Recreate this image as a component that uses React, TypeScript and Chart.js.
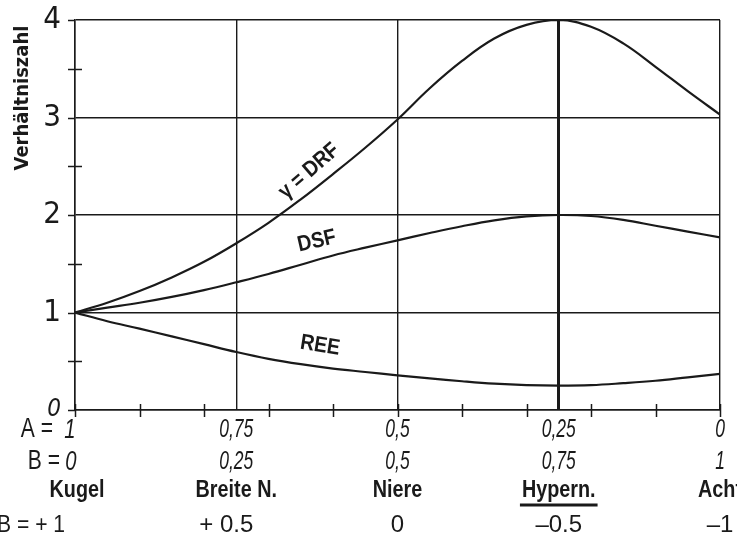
import React, { useEffect, useRef } from 'react';
import { Chart, registerables } from 'chart.js';

Chart.register(...registerables);

// B (share of figure-eight component), 0 … 1
const bValues = [0, 0.05, 0.1, 0.15, 0.2, 0.25, 0.3, 0.35, 0.4, 0.45, 0.5, 0.55, 0.6, 0.65, 0.7, 0.75, 0.8, 0.85, 0.9, 0.95, 1];
const drfValues = [1.0, 1.1, 1.22, 1.36, 1.52, 1.71, 1.92, 2.16, 2.42, 2.69, 2.98, 3.3, 3.58, 3.81, 3.95, 4.0, 3.93, 3.76, 3.52, 3.27, 3.03];
const dsfValues = [1.0, 1.05, 1.1, 1.16, 1.23, 1.31, 1.395, 1.49, 1.585, 1.665, 1.74, 1.815, 1.885, 1.945, 1.985, 2.0, 1.99, 1.95, 1.89, 1.83, 1.77];
const reeValues = [1.0, 0.91, 0.835, 0.755, 0.675, 0.595, 0.525, 0.47, 0.425, 0.39, 0.355, 0.325, 0.295, 0.27, 0.255, 0.25, 0.255, 0.275, 0.3, 0.335, 0.37];

const xMajorTicks = [0, 0.25, 0.5, 0.75, 1];
const xMinorTicks = [0, 0.1, 0.2, 0.3, 0.4, 0.5, 0.6, 0.7, 0.8, 0.9, 1];
const yMajorTicks = [0, 1, 2, 3, 4];
const yMinorTicks = [0.5, 1.5, 2.5, 3.5];

const aLabels = ['1', '0,75', '0,5', '0,25', '0'];
const bLabels = ['0', '0,25', '0,5', '0,75', '1'];
const shapeNames = ['Kugel', 'Breite N.', 'Niere', 'Hypern.', 'Acht'];
const betaLabels = ['+ 1', '+ 0.5', '0', '–0.5', '–1'];
const highlightedShape = 'Hypern.';
const highlightedB = 0.75;

const curveNames = ['γ = DRF', 'DSF', 'REE'];
const curveNameB = [0.363, 0.375, 0.38];
const curveNameValue = [2.45, 1.73, 0.66];
const curveNameAngle = [-41, -13, 9];

const yTitle = 'Verhältniszahl';

const INK = '#1a1a1a';
const SANS = '"Liberation Sans", Arial, sans-serif';
const COND = '"DejaVu Sans Condensed", "Liberation Sans", sans-serif';

function drawText(ctx: CanvasRenderingContext2D, text: string, x: number, y: number, font: string, align: CanvasTextAlign, sx: number) {
  ctx.save();
  ctx.font = font;
  ctx.textAlign = align;
  ctx.textBaseline = 'middle';
  ctx.translate(x, y);
  ctx.scale(sx, 1);
  ctx.fillText(text, 0, 0);
  ctx.restore();
}

const decorPlugin = {
  id: 'decor',
  beforeDraw(chart: any) {
    const ctx = chart.ctx;
    ctx.save();
    ctx.fillStyle = '#ffffff';
    ctx.fillRect(0, 0, chart.width, chart.height);
    ctx.restore();
  },
  afterDraw(chart: any) {
    const ctx: CanvasRenderingContext2D = chart.ctx;
    const xs = chart.scales.x;
    const ys = chart.scales.y;
    const left = chart.chartArea.left;
    const bottom = chart.chartArea.bottom;
    ctx.save();
    ctx.strokeStyle = INK;
    ctx.fillStyle = INK;
    ctx.lineWidth = 1.5;

    // x ticks (every 0.1) crossing the axis
    xMinorTicks.forEach((v) => {
      const px = Math.round(xs.getPixelForValue(v)) + 0.5;
      ctx.beginPath();
      ctx.moveTo(px, bottom - 6);
      ctx.lineTo(px, bottom + 7);
      ctx.stroke();
    });
    // y ticks
    yMajorTicks.forEach((v) => {
      const py = Math.round(ys.getPixelForValue(v)) + 0.5;
      ctx.beginPath();
      ctx.moveTo(left - 7, py);
      ctx.lineTo(left, py);
      ctx.stroke();
    });
    yMinorTicks.forEach((v) => {
      const py = Math.round(ys.getPixelForValue(v)) + 0.5;
      ctx.beginPath();
      ctx.moveTo(left - 7, py);
      ctx.lineTo(left + 7, py);
      ctx.stroke();
    });

    // curve names
    curveNames.forEach((t, i) => {
      const px = xs.getPixelForValue(curveNameB[i]);
      const py = ys.getPixelForValue(curveNameValue[i]);
      ctx.save();
      ctx.translate(px, py);
      ctx.rotate((curveNameAngle[i] * Math.PI) / 180);
      drawText(ctx, t, 0, 0, `bold 22px ${SANS}`, 'center', 0.88);
      ctx.restore();
    });

    // y title
    ctx.save();
    ctx.translate(23, 98);
    ctx.rotate(-Math.PI / 2);
    drawText(ctx, yTitle, 0, 0, `bold 20px ${COND}`, 'center', 1);
    ctx.restore();

    // bottom label rows
    const rowA = bottom + 20;
    const rowB = bottom + 52;
    const rowN = bottom + 81;
    const rowBeta = bottom + 115;

    drawText(ctx, 'A =', left - 22, rowA, `27px ${SANS}`, 'right', 0.78);
    drawText(ctx, 'B =', left - 15, rowB, `27px ${SANS}`, 'right', 0.78);

    xMajorTicks.forEach((v, i) => {
      const px = xs.getPixelForValue(v);
      if (i === 0) {
        drawText(ctx, aLabels[i], px - 5, rowA, `italic 27px ${SANS}`, 'center', 0.75);
        drawText(ctx, bLabels[i], px - 4, rowB, `italic 27px ${SANS}`, 'center', 0.75);
      } else {
        drawText(ctx, aLabels[i], px, rowA, `italic 25px ${SANS}`, 'center', 0.7);
        drawText(ctx, bLabels[i], px, rowB, `italic 25px ${SANS}`, 'center', 0.7);
      }
    });

    xMajorTicks.forEach((v, i) => {
      const px = xs.getPixelForValue(v) + (i === 0 ? 2 : 0);
      const sx = 0.86;
      drawText(ctx, shapeNames[i], px, rowN, `bold 23px ${SANS}`, 'center', sx);
      if (shapeNames[i] === highlightedShape) {
        ctx.font = `bold 23px ${SANS}`;
        const w = ctx.measureText(shapeNames[i]).width * sx;
        ctx.lineWidth = 3;
        ctx.beginPath();
        ctx.moveTo(px - w / 2 - 2, rowN + 14);
        ctx.lineTo(px + w / 2 + 2, rowN + 14);
        ctx.stroke();
      }
    });

    xMajorTicks.forEach((v, i) => {
      const px = xs.getPixelForValue(v);
      if (i === 0) {
        drawText(ctx, 'B = ' + betaLabels[i], -3, rowBeta, `24px ${SANS}`, 'left', 0.88);
      } else {
        drawText(ctx, betaLabels[i], px - (i === 1 ? 10 : 0), rowBeta, `24px ${SANS}`, 'center', 1);
      }
    });

    ctx.restore();
  },
};

export default function App() {
  const canvasRef = useRef<HTMLCanvasElement | null>(null);

  useEffect(() => {
    if (!canvasRef.current) return;
    const line = (label: string, values: number[]) => ({
      label,
      data: bValues.map((b, i) => ({ x: b, y: values[i] })),
      borderColor: INK,
      borderWidth: 2.2,
      pointRadius: 0,
      fill: false,
      tension: 0.4,
    });
    const chart = new Chart(canvasRef.current, {
      type: 'line',
      data: {
        datasets: [line('DRF', drfValues), line('DSF', dsfValues), line('REE', reeValues)],
      },
      options: {
        responsive: false,
        animation: false,
        layout: { padding: { left: 0, top: 20, right: 17, bottom: 126 } },
        plugins: { legend: { display: false }, tooltip: { enabled: false } },
        scales: {
          x: {
            type: 'linear',
            min: 0,
            max: 1,
            ticks: { display: false, stepSize: 0.25 },
            grid: {
              color: INK,
              lineWidth: (c: any) => (c.tick && c.tick.value === highlightedB ? 3 : 1.4),
              drawTicks: false,
            },
            border: { display: true, color: INK, width: 1.5 },
          },
          y: {
            type: 'linear',
            min: 0,
            max: 4,
            afterFit: (s: any) => {
              s.width = 75;
              s.paddingTop = 0;
              s.paddingBottom = 0;
            },
            ticks: {
              stepSize: 1,
              color: INK,
              padding: 14,
              font: (c: any) =>
                c.tick && c.tick.value === 0
                  ? { family: COND, size: 24, style: 'italic' }
                  : { family: COND, size: 31 },
              callback: (v: any) => String(v),
            },
            grid: { color: INK, lineWidth: 1.4, drawTicks: false },
            border: { display: true, color: INK, width: 1.5 },
          },
        },
      },
      plugins: [decorPlugin],
    });
    return () => chart.destroy();
  }, []);

  return (
    <div style={{ position: 'fixed', left: 0, top: 0, width: 737, height: 536, background: '#fff' }}>
      <canvas ref={canvasRef} width={737} height={536} style={{ display: 'block' }} />
    </div>
  );
}
